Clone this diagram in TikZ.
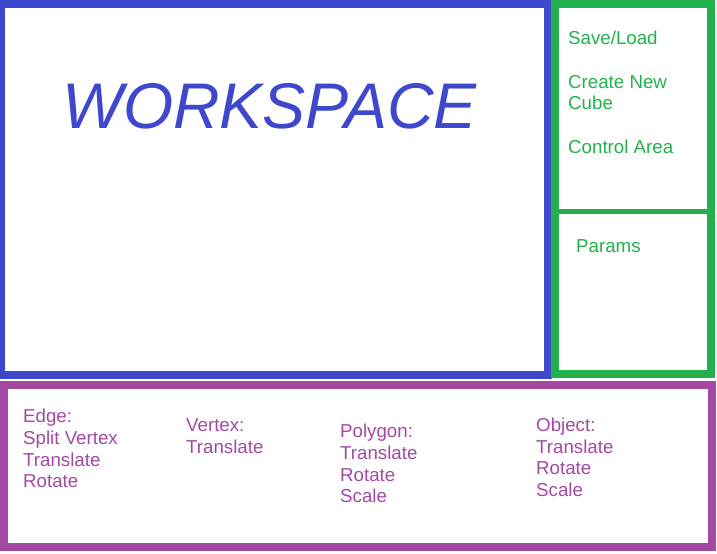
\documentclass[tikz,border=0pt]{standalone}
\usepackage{fontspec}
\setmainfont{Liberation Sans}
\definecolor{wsblue}{HTML}{3F48CC}
\definecolor{ctlgreen}{HTML}{22B14C}
\definecolor{toolpurple}{HTML}{A349A4}
\begin{document}
\begin{tikzpicture}[x=1bp,y=-1bp,
  panel/.style={line width=8bp, line join=miter},
  label/.style={anchor=north west, inner sep=0pt, align=left,
    font=\fontsize{18.7bp}{21.8bp}\selectfont},
  ctl/.style={label, text=ctlgreen},
  tool/.style={label, text=toolpurple}]
  \useasboundingbox (0,0) rectangle (717,554);
  \fill[white] (0,0) rectangle (717,554);

  % workspace panel
  \draw[panel, wsblue] (1,4) rectangle (547.5,375);
  \node[anchor=base west, inner sep=0pt, text=wsblue,
        font=\fontsize{64.5bp}{70bp}\selectfont\itshape] (ws) at (62,129) {WORKSPACE};

  % control panel with its divider
  \draw[panel, ctlgreen] (555,4) rectangle (711,374);
  \coordinate (divL) at (559,211.5);
  \coordinate (divR) at (707,211.5);
  \draw[ctlgreen, line width=5bp] (divL) -- (divR);
  \node[ctl] (save)   at (568,44-15.26)  {\strut Save/Load};
  \node[ctl] (create) at (568,88-15.26)  {\strut Create New\\\strut Cube};
  \node[ctl] (area)   at (568,153-15.26) {\strut Control Area};
  \node[ctl] (params) at (576,252-15.26) {\strut Params};

  % tool panel
  \draw[panel, toolpurple] (4,385) rectangle (712,547);
  \node[tool] (edge)   at (23,422.3-15.26)  {\strut Edge:\\\strut Split Vertex\\\strut Translate\\\strut Rotate};
  \node[tool] (vertex) at (186,431.7-15.26) {\strut Vertex:\\\strut Translate};
  \node[tool] (poly)   at (340,437.3-15.26) {\strut Polygon:\\\strut Translate\\\strut Rotate\\\strut Scale};
  \node[tool] (object) at (536,431-15.26)   {\strut Object:\\\strut Translate\\\strut Rotate\\\strut Scale};
\end{tikzpicture}
\end{document}
